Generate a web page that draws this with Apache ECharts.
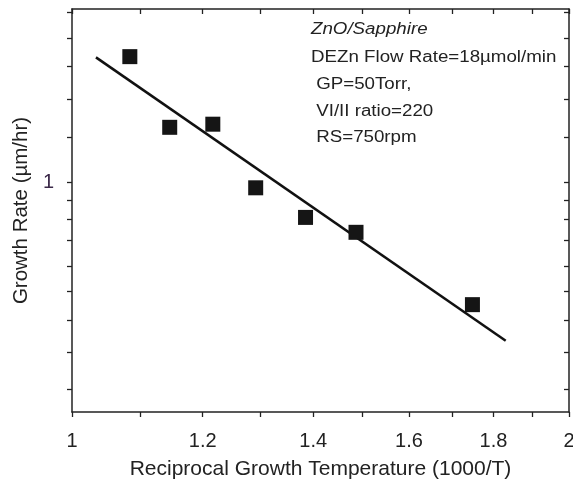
<!DOCTYPE html>
<html><head><meta charset="utf-8">
<script src="https://cdn.jsdelivr.net/npm/echarts@6/dist/echarts.min.js"></script>
<style>html,body{margin:0;padding:0;background:#fff}#c{width:573px;height:480px}</style>
</head><body><div id="c"></div>
<script>
// Data
var xData = [1.084, 1.146, 1.217, 1.292, 1.385, 1.486, 1.748];
var yData = [1.667, 1.250, 1.266, 0.977, 0.866, 0.815, 0.607];
var fitX = [1.034, 1.831];
var fitY = [1.662, 0.524];
var xTickValues = [1, 1.1, 1.2, 1.3, 1.4, 1.5, 1.6, 1.7, 1.8, 1.9, 2];
var xLabelValues = [1, 1.2, 1.4, 1.6, 1.8, 2];
var yTickValues = [0.43, 0.5, 0.57, 0.64, 0.71, 0.79, 0.86, 0.93, 1, 1.2, 1.4, 1.6, 1.8, 2];
var yLabelValues = [1];
var notes = ['ZnO/Sapphire', 'DEZn Flow Rate=18\u00b5mol/min', ' GP=50Torr,', ' VI/II ratio=220', ' RS=750rpm'];

var font = 'Liberation Sans, Arial, sans-serif';
var chart = echarts.init(document.getElementById('c'), null, {renderer: 'canvas'});
var pts = xData.map(function (x, i) { return [x, yData[i]]; });
var fit = fitX.map(function (x, i) { return [x, fitY[i]]; });
var axisLine = {show: true, lineStyle: {color: '#222', width: 1.5}};
var noteY = [30, 58, 85, 112, 138];
chart.setOption({
  animation: false,
  grid: {left: 72, top: 9, right: 4, bottom: 68, containLabel: false, outerBoundsMode: 'none'},
  xAxis: [{
    type: 'log', logBase: 10, min: 1, max: 2,
    axisLine: axisLine,
    axisTick: {show: true, inside: false, length: 5, customValues: xTickValues, lineStyle: {color: '#222', width: 1.3}},
    axisLabel: {customValues: xLabelValues, color: '#222', fontSize: 20, fontFamily: font, margin: 19,
      formatter: function (v) { return String(+v.toFixed(1)); }},
    splitLine: {show: false},
    name: 'Reciprocal Growth Temperature (1000/T)', nameLocation: 'middle', nameGap: 47,
    nameTextStyle: {color: '#222', fontSize: 21, fontFamily: font}
  }, {
    type: 'log', logBase: 10, min: 1, max: 2, position: 'top',
    axisLine: axisLine,
    axisTick: {show: true, inside: true, length: 5, customValues: xTickValues, lineStyle: {color: '#222', width: 1.3}},
    axisLabel: {show: false}, splitLine: {show: false}
  }],
  yAxis: [{
    type: 'log', logBase: 10, min: 0.392, max: 2.024,
    axisLine: axisLine,
    axisTick: {show: true, inside: false, length: 5, customValues: yTickValues, lineStyle: {color: '#222', width: 1.3}},
    axisLabel: {customValues: yLabelValues, color: '#3a2848', fontSize: 20, fontFamily: font, margin: 18,
      formatter: function (v) { return String(+v.toFixed(1)); }},
    splitLine: {show: false},
    name: 'Growth Rate (\u00b5m/hr)', nameLocation: 'middle', nameGap: 37,
    nameTextStyle: {color: '#222', fontSize: 20.5, fontFamily: font}
  }, {
    type: 'log', logBase: 10, min: 0.392, max: 2.024, position: 'right',
    axisLine: axisLine,
    axisTick: {show: true, inside: true, length: 5, customValues: yTickValues, lineStyle: {color: '#222', width: 1.3}},
    axisLabel: {show: false}, splitLine: {show: false}
  }],
  graphic: notes.map(function (t, i) {
    return {type: 'text', x: 311, y: noteY[i], scaleX: 1.17,
      style: {text: t, fill: '#222', verticalAlign: 'middle', font: (i === 0 ? 'italic ' : '') + '16px ' + font}};
  }),
  series: [{
    type: 'line', data: fit, symbol: 'none', lineStyle: {color: '#111', width: 2.5}, z: 2
  }, {
    type: 'scatter', data: pts, symbol: 'rect', symbolSize: 15, itemStyle: {color: '#151515', opacity: 1}, z: 3
  }]
});
</script></body></html>
